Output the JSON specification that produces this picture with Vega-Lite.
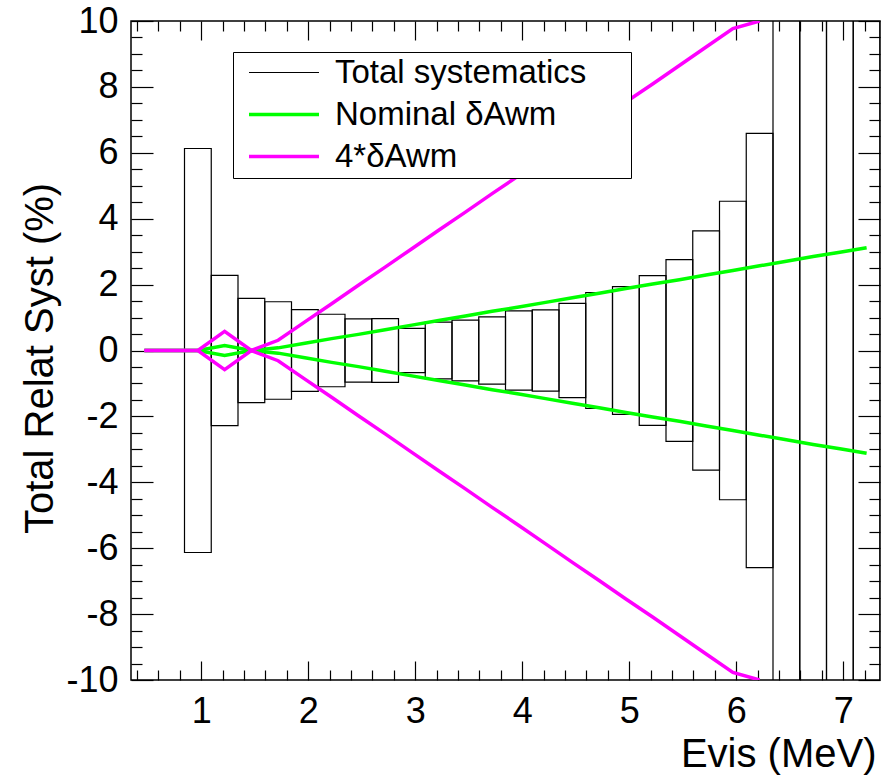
{
  "$schema": "https://vega.github.io/schema/vega-lite/v6.json",
  "width": 749,
  "height": 659,
  "autosize": "none",
  "padding": {"left": 131, "top": 21, "right": 2, "bottom": 97},
  "background": "white",
  "config": {
    "font": "Liberation Sans",
    "view": {"stroke": "black", "strokeWidth": 1.5},
    "axis": {
      "domain": false, "grid": false, "tickColor": "black", "tickWidth": 1.2,
      "labelColor": "black", "labelFontSize": 36, "labelFont": "Liberation Sans",
      "titleFont": "Liberation Sans", "titleFontWeight": "normal", "titleColor": "black",
      "titleFontSize": 40, "labelOverlap": false, "labelFlush": false
    }
  },
  "datasets": {
    "bins": [
      {"lo": 0.844, "hi": 1.094, "ylo": -6.13, "yhi": 6.13},
      {"lo": 1.094, "hi": 1.344, "ylo": -2.28, "yhi": 2.28},
      {"lo": 1.344, "hi": 1.594, "ylo": -1.58, "yhi": 1.58},
      {"lo": 1.594, "hi": 1.844, "ylo": -1.48, "yhi": 1.48},
      {"lo": 1.844, "hi": 2.094, "ylo": -1.24, "yhi": 1.24},
      {"lo": 2.094, "hi": 2.344, "ylo": -1.10, "yhi": 1.10},
      {"lo": 2.344, "hi": 2.594, "ylo": -0.96, "yhi": 0.96},
      {"lo": 2.594, "hi": 2.844, "ylo": -0.97, "yhi": 0.97},
      {"lo": 2.844, "hi": 3.094, "ylo": -0.67, "yhi": 0.67},
      {"lo": 3.094, "hi": 3.344, "ylo": -0.86, "yhi": 0.86},
      {"lo": 3.344, "hi": 3.594, "ylo": -0.92, "yhi": 0.92},
      {"lo": 3.594, "hi": 3.844, "ylo": -1.02, "yhi": 1.02},
      {"lo": 3.844, "hi": 4.094, "ylo": -1.20, "yhi": 1.20},
      {"lo": 4.094, "hi": 4.344, "ylo": -1.23, "yhi": 1.23},
      {"lo": 4.344, "hi": 4.594, "ylo": -1.43, "yhi": 1.43},
      {"lo": 4.594, "hi": 4.844, "ylo": -1.76, "yhi": 1.76},
      {"lo": 4.844, "hi": 5.094, "ylo": -1.94, "yhi": 1.94},
      {"lo": 5.094, "hi": 5.344, "ylo": -2.27, "yhi": 2.27},
      {"lo": 5.344, "hi": 5.594, "ylo": -2.76, "yhi": 2.76},
      {"lo": 5.594, "hi": 5.844, "ylo": -3.63, "yhi": 3.63},
      {"lo": 5.844, "hi": 6.094, "ylo": -4.53, "yhi": 4.53},
      {"lo": 6.094, "hi": 6.344, "ylo": -6.59, "yhi": 6.59},
      {"lo": 6.344, "hi": 6.594, "ylo": -15, "yhi": 15},
      {"lo": 6.594, "hi": 6.844, "ylo": -20, "yhi": 20},
      {"lo": 6.844, "hi": 7.094, "ylo": -25, "yhi": 25},
      {"lo": 7.094, "hi": 7.344, "ylo": -30, "yhi": 30}
    ],
    "curves": [
      {"s": "Nominal δAwm", "b": "gu", "e": 0.469, "v": 0},
      {"s": "Nominal δAwm", "b": "gu", "e": 0.719, "v": 0},
      {"s": "Nominal δAwm", "b": "gu", "e": 0.969, "v": 0},
      {"s": "Nominal δAwm", "b": "gu", "e": 1.219, "v": 0.15},
      {"s": "Nominal δAwm", "b": "gu", "e": 1.469, "v": 0},
      {"s": "Nominal δAwm", "b": "gu", "e": 1.719, "v": 0.08},
      {"s": "Nominal δAwm", "b": "gu", "e": 1.969, "v": 0.22},
      {"s": "Nominal δAwm", "b": "gu", "e": 2.219, "v": 0.36},
      {"s": "Nominal δAwm", "b": "gu", "e": 2.469, "v": 0.49},
      {"s": "Nominal δAwm", "b": "gu", "e": 2.719, "v": 0.63},
      {"s": "Nominal δAwm", "b": "gu", "e": 2.969, "v": 0.77},
      {"s": "Nominal δAwm", "b": "gu", "e": 3.219, "v": 0.91},
      {"s": "Nominal δAwm", "b": "gu", "e": 3.469, "v": 1.05},
      {"s": "Nominal δAwm", "b": "gu", "e": 3.719, "v": 1.19},
      {"s": "Nominal δAwm", "b": "gu", "e": 3.969, "v": 1.32},
      {"s": "Nominal δAwm", "b": "gu", "e": 4.219, "v": 1.46},
      {"s": "Nominal δAwm", "b": "gu", "e": 4.469, "v": 1.60},
      {"s": "Nominal δAwm", "b": "gu", "e": 4.719, "v": 1.74},
      {"s": "Nominal δAwm", "b": "gu", "e": 4.969, "v": 1.88},
      {"s": "Nominal δAwm", "b": "gu", "e": 5.219, "v": 2.02},
      {"s": "Nominal δAwm", "b": "gu", "e": 5.469, "v": 2.15},
      {"s": "Nominal δAwm", "b": "gu", "e": 5.719, "v": 2.29},
      {"s": "Nominal δAwm", "b": "gu", "e": 5.969, "v": 2.43},
      {"s": "Nominal δAwm", "b": "gu", "e": 6.219, "v": 2.57},
      {"s": "Nominal δAwm", "b": "gu", "e": 6.469, "v": 2.71},
      {"s": "Nominal δAwm", "b": "gu", "e": 6.719, "v": 2.85},
      {"s": "Nominal δAwm", "b": "gu", "e": 6.969, "v": 2.98},
      {"s": "Nominal δAwm", "b": "gu", "e": 7.219, "v": 3.12},
      {"s": "Nominal δAwm", "b": "gl", "e": 0.469, "v": 0},
      {"s": "Nominal δAwm", "b": "gl", "e": 0.719, "v": 0},
      {"s": "Nominal δAwm", "b": "gl", "e": 0.969, "v": 0},
      {"s": "Nominal δAwm", "b": "gl", "e": 1.219, "v": -0.15},
      {"s": "Nominal δAwm", "b": "gl", "e": 1.469, "v": 0},
      {"s": "Nominal δAwm", "b": "gl", "e": 1.719, "v": -0.08},
      {"s": "Nominal δAwm", "b": "gl", "e": 1.969, "v": -0.22},
      {"s": "Nominal δAwm", "b": "gl", "e": 2.219, "v": -0.36},
      {"s": "Nominal δAwm", "b": "gl", "e": 2.469, "v": -0.49},
      {"s": "Nominal δAwm", "b": "gl", "e": 2.719, "v": -0.63},
      {"s": "Nominal δAwm", "b": "gl", "e": 2.969, "v": -0.77},
      {"s": "Nominal δAwm", "b": "gl", "e": 3.219, "v": -0.91},
      {"s": "Nominal δAwm", "b": "gl", "e": 3.469, "v": -1.05},
      {"s": "Nominal δAwm", "b": "gl", "e": 3.719, "v": -1.19},
      {"s": "Nominal δAwm", "b": "gl", "e": 3.969, "v": -1.32},
      {"s": "Nominal δAwm", "b": "gl", "e": 4.219, "v": -1.46},
      {"s": "Nominal δAwm", "b": "gl", "e": 4.469, "v": -1.60},
      {"s": "Nominal δAwm", "b": "gl", "e": 4.719, "v": -1.74},
      {"s": "Nominal δAwm", "b": "gl", "e": 4.969, "v": -1.88},
      {"s": "Nominal δAwm", "b": "gl", "e": 5.219, "v": -2.02},
      {"s": "Nominal δAwm", "b": "gl", "e": 5.469, "v": -2.15},
      {"s": "Nominal δAwm", "b": "gl", "e": 5.719, "v": -2.29},
      {"s": "Nominal δAwm", "b": "gl", "e": 5.969, "v": -2.43},
      {"s": "Nominal δAwm", "b": "gl", "e": 6.219, "v": -2.57},
      {"s": "Nominal δAwm", "b": "gl", "e": 6.469, "v": -2.71},
      {"s": "Nominal δAwm", "b": "gl", "e": 6.719, "v": -2.85},
      {"s": "Nominal δAwm", "b": "gl", "e": 6.969, "v": -2.98},
      {"s": "Nominal δAwm", "b": "gl", "e": 7.219, "v": -3.12},
      {"s": "4*δAwm", "b": "mu", "e": 0.469, "v": 0},
      {"s": "4*δAwm", "b": "mu", "e": 0.719, "v": 0},
      {"s": "4*δAwm", "b": "mu", "e": 0.969, "v": 0},
      {"s": "4*δAwm", "b": "mu", "e": 1.219, "v": 0.58},
      {"s": "4*δAwm", "b": "mu", "e": 1.469, "v": 0},
      {"s": "4*δAwm", "b": "mu", "e": 1.719, "v": 0.31},
      {"s": "4*δAwm", "b": "mu", "e": 1.969, "v": 0.87},
      {"s": "4*δAwm", "b": "mu", "e": 2.219, "v": 1.42},
      {"s": "4*δAwm", "b": "mu", "e": 2.469, "v": 1.98},
      {"s": "4*δAwm", "b": "mu", "e": 2.719, "v": 2.53},
      {"s": "4*δAwm", "b": "mu", "e": 2.969, "v": 3.09},
      {"s": "4*δAwm", "b": "mu", "e": 3.219, "v": 3.65},
      {"s": "4*δAwm", "b": "mu", "e": 3.469, "v": 4.20},
      {"s": "4*δAwm", "b": "mu", "e": 3.719, "v": 4.76},
      {"s": "4*δAwm", "b": "mu", "e": 3.969, "v": 5.31},
      {"s": "4*δAwm", "b": "mu", "e": 4.219, "v": 5.87},
      {"s": "4*δAwm", "b": "mu", "e": 4.469, "v": 6.43},
      {"s": "4*δAwm", "b": "mu", "e": 4.719, "v": 6.98},
      {"s": "4*δAwm", "b": "mu", "e": 4.969, "v": 7.54},
      {"s": "4*δAwm", "b": "mu", "e": 5.219, "v": 8.09},
      {"s": "4*δAwm", "b": "mu", "e": 5.469, "v": 8.65},
      {"s": "4*δAwm", "b": "mu", "e": 5.719, "v": 9.21},
      {"s": "4*δAwm", "b": "mu", "e": 5.969, "v": 9.77},
      {"s": "4*δAwm", "b": "mu", "e": 6.219, "v": 10.0},
      {"s": "4*δAwm", "b": "ml", "e": 0.469, "v": 0},
      {"s": "4*δAwm", "b": "ml", "e": 0.719, "v": 0},
      {"s": "4*δAwm", "b": "ml", "e": 0.969, "v": 0},
      {"s": "4*δAwm", "b": "ml", "e": 1.219, "v": -0.58},
      {"s": "4*δAwm", "b": "ml", "e": 1.469, "v": 0},
      {"s": "4*δAwm", "b": "ml", "e": 1.719, "v": -0.31},
      {"s": "4*δAwm", "b": "ml", "e": 1.969, "v": -0.87},
      {"s": "4*δAwm", "b": "ml", "e": 2.219, "v": -1.42},
      {"s": "4*δAwm", "b": "ml", "e": 2.469, "v": -1.98},
      {"s": "4*δAwm", "b": "ml", "e": 2.719, "v": -2.53},
      {"s": "4*δAwm", "b": "ml", "e": 2.969, "v": -3.09},
      {"s": "4*δAwm", "b": "ml", "e": 3.219, "v": -3.65},
      {"s": "4*δAwm", "b": "ml", "e": 3.469, "v": -4.20},
      {"s": "4*δAwm", "b": "ml", "e": 3.719, "v": -4.76},
      {"s": "4*δAwm", "b": "ml", "e": 3.969, "v": -5.31},
      {"s": "4*δAwm", "b": "ml", "e": 4.219, "v": -5.87},
      {"s": "4*δAwm", "b": "ml", "e": 4.469, "v": -6.43},
      {"s": "4*δAwm", "b": "ml", "e": 4.719, "v": -6.98},
      {"s": "4*δAwm", "b": "ml", "e": 4.969, "v": -7.54},
      {"s": "4*δAwm", "b": "ml", "e": 5.219, "v": -8.09},
      {"s": "4*δAwm", "b": "ml", "e": 5.469, "v": -8.65},
      {"s": "4*δAwm", "b": "ml", "e": 5.719, "v": -9.21},
      {"s": "4*δAwm", "b": "ml", "e": 5.969, "v": -9.77},
      {"s": "4*δAwm", "b": "ml", "e": 6.219, "v": -10.0}
    ]
  },
  "layer": [
    {
      "data": {"name": "bins"},
      "mark": {"type": "rect", "filled": false, "strokeWidth": 1.2, "clip": true},
      "encoding": {
        "x": {
          "field": "lo", "type": "quantitative",
          "scale": {"domain": [0.344, 7.344], "nice": false, "zero": false},
          "axis": {
            "orient": "bottom",
            "values": [0.4, 0.6, 0.8, 1, 1.2, 1.4, 1.6, 1.8, 2, 2.2, 2.4, 2.6, 2.8, 3, 3.2, 3.4, 3.6, 3.8, 4, 4.2, 4.4, 4.6, 4.8, 5, 5.2, 5.4, 5.6, 5.8, 6, 6.2, 6.4, 6.6, 6.8, 7, 7.2],
            "tickSize": {"condition": {"test": "abs(datum.value - round(datum.value)) < 0.001", "value": -19}, "value": -10},
            "labelExpr": "abs(datum.value - round(datum.value)) < 0.001 ? '' + round(datum.value) : ''",
            "labelPadding": 33,
            "title": "Evis (MeV)",
            "titleAlign": "right",
            "titleBaseline": "alphabetic",
            "titleX": 745,
            "titleY": 86
          }
        },
        "x2": {"field": "hi"},
        "y": {
          "field": "ylo", "type": "quantitative",
          "scale": {"domain": [-10, 10], "nice": false, "zero": false},
          "axis": {
            "orient": "left",
            "values": [-10, -9.5, -9, -8.5, -8, -7.5, -7, -6.5, -6, -5.5, -5, -4.5, -4, -3.5, -3, -2.5, -2, -1.5, -1, -0.5, 0, 0.5, 1, 1.5, 2, 2.5, 3, 3.5, 4, 4.5, 5, 5.5, 6, 6.5, 7, 7.5, 8, 8.5, 9, 9.5, 10],
            "tickSize": {"condition": {"test": "datum.value % 2 === 0", "value": -22}, "value": -11},
            "labelExpr": "datum.value % 2 === 0 ? '' + datum.value : ''",
            "labelPadding": 35,
            "title": "Total Relat Syst (%)",
            "titleAngle": -90,
            "titleAlign": "center",
            "titleBaseline": "alphabetic",
            "titleX": -79,
            "titleY": 337
          }
        },
        "y2": {"field": "yhi"},
        "stroke": {"datum": "Total systematics"}
      }
    },
    {
      "mark": {"type": "rule", "color": "#2a2a80", "strokeWidth": 1},
      "encoding": {"y": {"datum": 0, "axis": null}}
    },
    {
      "data": {"name": "curves"},
      "mark": {"type": "line", "strokeWidth": 3.5, "clip": true},
      "encoding": {
        "x": {
          "field": "e", "type": "quantitative",
          "axis": {
            "orient": "top",
            "values": [0.4, 0.6, 0.8, 1, 1.2, 1.4, 1.6, 1.8, 2, 2.2, 2.4, 2.6, 2.8, 3, 3.2, 3.4, 3.6, 3.8, 4, 4.2, 4.4, 4.6, 4.8, 5, 5.2, 5.4, 5.6, 5.8, 6, 6.2, 6.4, 6.6, 6.8, 7, 7.2],
            "tickSize": {"condition": {"test": "abs(datum.value - round(datum.value)) < 0.001", "value": -19}, "value": -10},
            "labels": false,
            "title": null
          }
        },
        "y": {
          "field": "v", "type": "quantitative",
          "axis": {
            "orient": "right",
            "values": [-10, -9.5, -9, -8.5, -8, -7.5, -7, -6.5, -6, -5.5, -5, -4.5, -4, -3.5, -3, -2.5, -2, -1.5, -1, -0.5, 0, 0.5, 1, 1.5, 2, 2.5, 3, 3.5, 4, 4.5, 5, 5.5, 6, 6.5, 7, 7.5, 8, 8.5, 9, 9.5, 10],
            "tickSize": {"condition": {"test": "datum.value % 2 === 0", "value": -22}, "value": -11},
            "labels": false,
            "title": null
          }
        },
        "stroke": {
          "field": "s", "type": "nominal",
          "scale": {"domain": ["Total systematics", "Nominal δAwm", "4*δAwm"], "range": ["#000000", "#00ff00", "#ff00ff"]},
          "legend": {
            "orient": "none",
            "legendX": 102,
            "legendY": 31,
            "title": ".",
            "titleOrient": "right",
            "titleFontSize": 1,
            "titleOpacity": 0,
            "titlePadding": 40,
            "symbolType": "M-2.258,0H2.258",
            "symbolSize": 961,
            "symbolFillColor": "transparent",
            "symbolStrokeWidth": 3.5,
            "rowPadding": 8,
            "padding": 4,
            "symbolOffset": 30.5,
            "labelOffset": 34.5,
            "labelFontSize": 33,
            "labelFont": "Liberation Sans",
            "labelColor": "black",
            "labelLimit": 500,
            "strokeColor": "black",
            "fillColor": "white",
            "cornerRadius": 0,
            "encode": {"symbols": {"update": {"strokeWidth": {"signal": "datum.value === 'Total systematics' ? 1.2 : 3.5"}}}}
          }
        },
        "detail": {"field": "b", "type": "nominal"},
        "order": {"field": "e", "type": "quantitative"}
      }
    }
  ],
  "resolve": {"axis": {"x": "independent", "y": "independent"}}
}
